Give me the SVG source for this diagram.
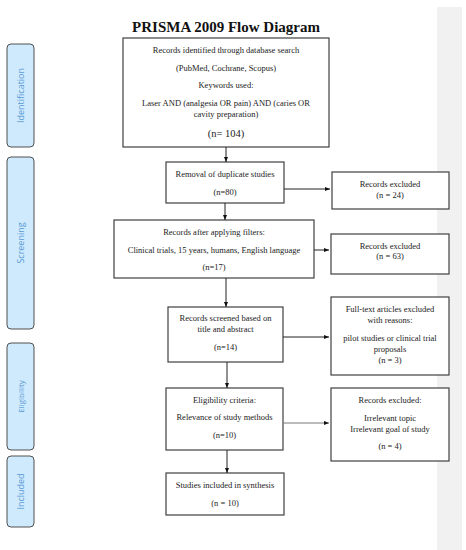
<svg xmlns="http://www.w3.org/2000/svg" width="466" height="550" viewBox="0 0 466 550">
<style>
.box{fill:#fff;stroke:#404040;stroke-width:1.2}
.side{fill:#cfeafc;stroke:#505050;stroke-width:1}
.t{font-family:"Liberation Serif","Times New Roman",serif;font-size:8.5px;fill:#222;text-anchor:middle}
.big{font-size:10.5px}
.st{font-family:"Open Sans","Liberation Sans",sans-serif;font-size:9px;fill:#5a9ad6;text-anchor:middle}
.c{stroke:#222;stroke-width:1;fill:none;marker-end:url(#ah)}
</style>
<defs>
<marker id="ah" viewBox="0 0 10 10" refX="10" refY="5" markerWidth="5" markerHeight="5" orient="auto" markerUnits="userSpaceOnUse">
<path d="M0,1 L10,5 L0,9 z" fill="#111"/>
</marker>
</defs>
<rect x="437" y="7" width="25" height="543" fill="#f1f1f1"/>
<text x="226" y="32" font-family="Liberation Serif,serif" font-weight="bold" font-size="15" text-anchor="middle" fill="#111">PRISMA 2009 Flow Diagram</text>

<g id="side-identification"><rect class="side" x="7" y="44" width="27" height="103" rx="4"/><text class="st" transform="translate(23.5,95.5) rotate(-90)">Identification</text></g>
<g id="side-screening"><rect class="side" x="7" y="157" width="27" height="172" rx="4"/><text class="st" transform="translate(23.5,243) rotate(-90)">Screening</text></g>
<g id="side-eligibility"><rect class="side" x="7" y="343" width="27" height="107" rx="4"/><text class="st" transform="translate(23.5,396.5) rotate(-90)" style="font-size:8px">Eligibility</text></g>
<g id="side-included"><rect class="side" x="7" y="456" width="27" height="71" rx="4"/><text class="st" transform="translate(23.5,491.5) rotate(-90)">Included</text></g>

<g id="n1"><rect class="box" x="123" y="38" width="206" height="109"/>
<text class="t" x="226" y="53">Records identified through database search</text>
<text class="t" x="226" y="71">(PubMed, Cochrane, Scopus)</text>
<text class="t" x="226" y="88">Keywords used:</text>
<text class="t" x="226" y="106">Laser AND (analgesia OR pain) AND (caries OR</text>
<text class="t" x="226" y="117">cavity preparation)</text>
<text class="t big" x="226" y="137">(n= 104)</text></g>

<g id="n2"><rect class="box" x="166" y="162" width="118" height="41"/>
<text class="t" x="225" y="177">Removal of duplicate studies</text>
<text class="t" x="225" y="195">(n=80)</text></g>

<g id="n3"><rect class="box" x="332" y="172" width="117" height="37"/>
<text class="t" x="390" y="187">Records excluded</text>
<text class="t" x="390" y="198">(n = 24)</text></g>

<g id="n4"><rect class="box" x="114" y="220" width="200" height="58"/>
<text class="t" x="214" y="235">Records after applying filters:</text>
<text class="t" x="214" y="253">Clinical trials, 15 years, humans, English language</text>
<text class="t" x="214" y="270">(n=17)</text></g>

<g id="n5"><rect class="box" x="331" y="234" width="118" height="40"/>
<text class="t" x="390" y="249">Records excluded</text>
<text class="t" x="390" y="259">(n = 63)</text></g>

<g id="n6"><rect class="box" x="168" y="307" width="115" height="55"/>
<text class="t" x="225.5" y="321">Records screened based on</text>
<text class="t" x="225.5" y="332">title and abstract</text>
<text class="t" x="225.5" y="350">(n=14)</text></g>

<g id="n7"><rect class="box" x="331" y="297" width="118" height="78"/>
<text class="t" x="390" y="312">Full-text articles excluded</text>
<text class="t" x="390" y="323">with reasons:</text>
<text class="t" x="390" y="341">pilot studies or clinical trial</text>
<text class="t" x="390" y="352">proposals</text>
<text class="t" x="390" y="363">(n = 3)</text></g>

<g id="n8"><rect class="box" x="166" y="388" width="117" height="62"/>
<text class="t" x="224.5" y="403">Eligibility criteria:</text>
<text class="t" x="224.5" y="420">Relevance of study methods</text>
<text class="t" x="224.5" y="438">(n=10)</text></g>

<g id="n9"><rect class="box" x="331" y="388" width="118" height="73"/>
<text class="t" x="390" y="403">Records excluded:</text>
<text class="t" x="390" y="421">Irrelevant topic</text>
<text class="t" x="390" y="432">Irrelevant goal of study</text>
<text class="t" x="390" y="449">(n = 4)</text></g>

<g id="n10"><rect class="box" x="166" y="473" width="118" height="42"/>
<text class="t" x="225" y="488">Studies included in synthesis</text>
<text class="t" x="225" y="506">(n = 10)</text></g>

<g id="connectors">
<line class="c" x1="226" y1="147" x2="226" y2="162"/>
<line class="c" x1="284" y1="189" x2="330" y2="189"/>
<line class="c" x1="225" y1="203" x2="225" y2="220"/>
<line class="c" x1="314" y1="250" x2="329" y2="250"/>
<line class="c" x1="226" y1="278" x2="226" y2="307"/>
<line class="c" x1="283" y1="337" x2="329" y2="337"/>
<line class="c" x1="227" y1="362" x2="227" y2="388"/>
<line class="c" x1="283" y1="423" x2="329" y2="423" style="stroke:#777"/>
<line class="c" x1="227" y1="450" x2="227" y2="473"/>
</g>
</svg>
